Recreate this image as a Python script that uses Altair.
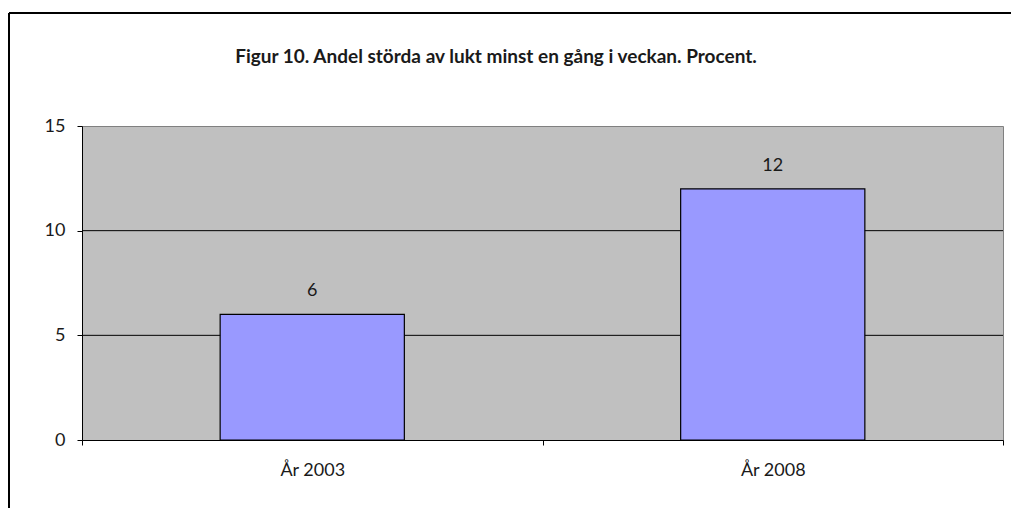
import altair as alt
import pandas as pd

categories = ["År 2003", "År 2008"]
values = [6, 12]
grid_values = [5, 10]
y_ticks = [0, 5, 10, 15]
title_text = "Figur 10. Andel störda av lukt minst en gång i veckan. Procent."

FONT = "Lato"
TXT = "#1a1a1a"

df = pd.DataFrame({"cat": categories, "val": values})
grid_df = pd.DataFrame({"g": grid_values})

x_enc = alt.X(
    "cat:N",
    sort=categories,
    scale=alt.Scale(paddingInner=0, paddingOuter=0),
    axis=alt.Axis(
        title=None, labelAngle=0, tickBand="extent", tickSize=5,
        domainColor="black", tickColor="black", labelColor=TXT,
        labelFontSize=18, labelPadding=16, labelFont=FONT,
    ),
)
y_scale = alt.Scale(domain=[0, 15], nice=False)

grid = alt.Chart(grid_df).mark_rule(color="black", strokeWidth=1).encode(
    y=alt.Y("g:Q", scale=y_scale)
)

bars = alt.Chart(df).mark_bar(
    width=alt.RelativeBandSize(band=0.4), color="#9999FF", stroke="black", strokeWidth=1.2
).encode(
    x=x_enc,
    y=alt.Y(
        "val:Q", scale=y_scale,
        axis=alt.Axis(
            title=None, values=y_ticks, grid=False, tickSize=5,
            domainColor="black", tickColor="black", labelColor=TXT,
            labelFontSize=18, labelPadding=12, labelFont=FONT,
        ),
    ),
)

labels = alt.Chart(df).mark_text(
    baseline="alphabetic", dy=-18, fontSize=18, font=FONT, color=TXT
).encode(x=alt.X("cat:N", sort=categories), y=alt.Y("val:Q", scale=y_scale), text="val:Q")

frame_data = alt.Data(values=[{"a": 1}])
frame_left = alt.Chart(frame_data).mark_rule(color="black", strokeWidth=2).encode(
    x=alt.value(-73), y=alt.value(-113), y2=alt.value(420)
)
frame_top = alt.Chart(frame_data).mark_rule(color="black", strokeWidth=2).encode(
    x=alt.value(-73), x2=alt.value(960), y=alt.value(-113)
)
title_mark = alt.Chart(frame_data).mark_text(
    text=title_text, fontSize=19, font=FONT, fontWeight="bold", color=TXT,
    align="center", baseline="alphabetic",
).encode(x=alt.value(414), y=alt.value(-63))

chart = alt.layer(grid, bars, labels, frame_left, frame_top, title_mark).properties(
    width=921,
    height=314,
    autosize=alt.AutoSizeParams(type="none"),
    padding={"left": 74, "top": 118, "right": 8, "bottom": 68},
    background="white",
).configure_view(
    fill="#C0C0C0", stroke="#808080", strokeWidth=1
)

chart.save("out.html", embed_options={"renderer": "svg", "actions": False})
